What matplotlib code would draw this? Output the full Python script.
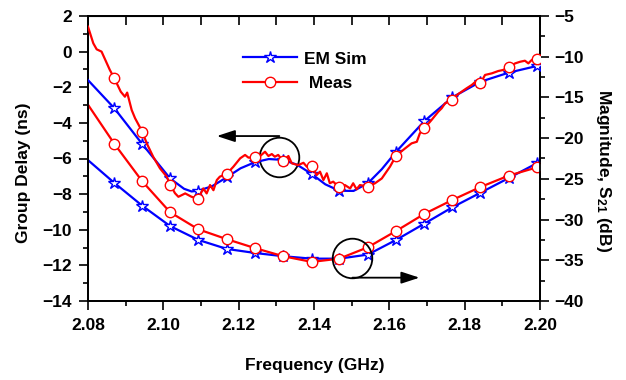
import numpy as np
import matplotlib
matplotlib.use("Agg")
import matplotlib.pyplot as plt
from matplotlib.lines import Line2D

plt.rcParams['font.family'] = ['Liberation Sans', 'DejaVu Sans']
plt.rcParams['font.weight'] = 'bold'
plt.rcParams['mathtext.fontset'] = 'custom'
plt.rcParams['mathtext.rm'] = 'Liberation Sans:bold'
plt.rcParams['mathtext.bf'] = 'Liberation Sans:bold'
plt.rcParams['mathtext.default'] = 'bf'

# --- marker frequencies (GHz), shared by all four curves ---
f_mark = [2.0870, 2.0944, 2.1018, 2.1093, 2.1168, 2.1243, 2.1318, 2.1394,
          2.1467, 2.1543, 2.1618, 2.1693, 2.1767, 2.1842, 2.1917, 2.1991]

# --- group delay, EM sim (ns) ---
gd_sim_f = [2.0800, 2.0870, 2.0944, 2.1018, 2.1055, 2.1075, 2.1093, 2.1130,
            2.1168, 2.1205, 2.1243, 2.1280, 2.1318, 2.1355, 2.1394, 2.1430,
            2.1467, 2.1505, 2.1543, 2.1580, 2.1618, 2.1693, 2.1767, 2.1842,
            2.1917, 2.1991, 2.2000]
gd_sim = [-1.6, -3.18, -5.19, -7.12, -7.70, -7.85, -7.81, -7.55,
          -7.06, -6.55, -6.21, -6.03, -6.08, -6.35, -6.87, -7.45,
          -7.81, -7.82, -7.39, -6.60, -5.62, -3.90, -2.57, -1.69,
          -1.18, -0.81, -0.75]
gd_sim_mark = [-3.18, -5.19, -7.12, -7.81, -7.06, -6.21, -6.08, -6.87,
               -7.81, -7.39, -5.62, -3.90, -2.57, -1.69, -1.18, -0.81]

# --- group delay, measured (ns) ---
gd_meas_f = [2.0800, 2.0814, 2.0823, 2.0836, 2.0858, 2.0870, 2.0887, 2.0898,
             2.0904, 2.0916, 2.0925, 2.0944, 2.0956, 2.0973, 2.0991, 2.1009,
             2.1018, 2.1031, 2.1040, 2.1058, 2.1075, 2.1093, 2.1106, 2.1115,
             2.1124, 2.1133, 2.1142, 2.1150, 2.1168, 2.1186, 2.1204, 2.1217,
             2.1226, 2.1243, 2.1257, 2.1270, 2.1279, 2.1288, 2.1296, 2.1305,
             2.1318, 2.1332, 2.1341, 2.1358, 2.1372, 2.1381, 2.1394, 2.1407,
             2.1416, 2.1425, 2.1434, 2.1442, 2.1451, 2.1467, 2.1482, 2.1496,
             2.1504, 2.1513, 2.1522, 2.1543, 2.1562, 2.1580, 2.1602, 2.1618,
             2.1642, 2.1659, 2.1673, 2.1681, 2.1693, 2.1712, 2.1730, 2.1739,
             2.1748, 2.1767, 2.1779, 2.1792, 2.1805, 2.1819, 2.1832, 2.1842,
             2.1854, 2.1872, 2.1889, 2.1902, 2.1917, 2.1934, 2.1947, 2.1960,
             2.1969, 2.1978, 2.1991, 2.2000]
gd_meas = [1.4, 0.47, 0.13, 0.0, -1.03, -1.5, -2.25, -2.53,
           -2.3, -3.28, -3.74, -4.49, -5.15, -5.9, -6.55, -7.02,
           -7.47, -7.95, -8.15, -7.96, -8.15, -8.25, -7.68, -7.96,
           -7.49, -7.78, -7.21, -7.02, -6.87, -6.46, -5.99, -5.8,
           -5.95, -5.94, -5.86, -5.62, -5.86, -5.75, -5.9, -5.8,
           -6.14, -5.86, -6.27, -6.37, -6.24, -6.46, -6.40, -6.93,
           -6.74, -7.21, -6.83, -7.39, -7.30, -7.62, -7.49, -7.68,
           -7.39, -7.73, -7.49, -7.58, -7.39, -7.12, -6.45, -5.84,
           -5.43, -5.15, -5.06, -4.59, -4.31, -3.84, -3.37, -3.18,
           -2.9, -2.72, -2.44, -2.25, -2.06, -1.87, -1.63, -1.78,
           -1.31, -1.22, -1.09, -1.03, -0.88, -0.66, -0.57, -0.51,
           -0.66, -0.47, -0.43, -0.35]
gd_meas_mark = [-1.5, -4.49, -7.47, -8.25, -6.87, -5.94, -6.14, -6.40,
                -7.62, -7.58, -5.84, -4.31, -2.72, -1.78, -0.88, -0.43]

# --- |S21|, EM sim (dB) ---
s21_sim_f = [2.0800] + f_mark + [2.2000]
s21_sim = [-22.7, -25.5, -28.3, -30.8, -32.5, -33.6, -34.1, -34.5, -34.8,
           -34.8, -34.3, -32.5, -30.5, -28.5, -26.7, -24.9, -23.1, -22.7]

# --- |S21|, measured (dB) ---
s21_meas_f = [2.0800] + f_mark + [2.2000]
s21_meas = [-15.9, -20.7, -25.3, -29.1, -31.2, -32.4, -33.5, -34.5, -35.2,
            -34.8, -33.4, -31.4, -29.3, -27.6, -26.0, -24.6, -23.6, -23.3]

BLUE = '#0000ff'
RED = '#ff0000'
FS = 12.5

fig = plt.figure(figsize=(6.26, 3.8), dpi=100)
ax = fig.add_axes([88 / 626, 1 - 301 / 380, 452 / 626, 285 / 380])
ax2 = ax.twinx()

# group delay curves on the left axis
ax.plot(gd_sim_f, gd_sim, color=BLUE, lw=1.6, zorder=3)
ax.plot(f_mark, gd_sim_mark, ls='none', marker='*', ms=9, mfc='white',
        mec=BLUE, mew=1.0, zorder=4)
ax.plot(gd_meas_f, gd_meas, color=RED, lw=1.6, zorder=5)
ax.plot(f_mark, gd_meas_mark, ls='none', marker='o', ms=7.5, mfc='white',
        mec=RED, mew=1.0, zorder=6)

# magnitude curves on the right axis
ax2.plot(s21_sim_f, s21_sim, color=BLUE, lw=1.6, zorder=3)
ax2.plot(f_mark, s21_sim[1:-1], ls='none', marker='*', ms=9, mfc='white',
         mec=BLUE, mew=1.0, zorder=4)
ax2.plot(s21_meas_f, s21_meas, color=RED, lw=1.6, zorder=5)
ax2.plot(f_mark, s21_meas[1:-1], ls='none', marker='o', ms=7.5, mfc='white',
         mec=RED, mew=1.0, zorder=6)

# circles + arrows pointing to the axes
ax2.plot([2.1308], [-5 + (-5.92 - 2) * 35 / 16], ls='none', marker='o', ms=28.5,
         mfc='none', mec='black', mew=1.3, zorder=7)
ax2.plot([2.1502], [-5 + (-11.57 - 2) * 35 / 16], ls='none', marker='o', ms=28.5,
         mfc='none', mec='black', mew=1.3, zorder=7)
arrow = dict(arrowstyle='-|>,head_length=1.1,head_width=0.36',
             color='black', lw=1.3, shrinkA=0, shrinkB=0)
ax.annotate('', xy=(2.1142, -4.74), xytext=(2.1308, -4.74), arrowprops=arrow)
ax.annotate('', xy=(2.1680, -12.69), xytext=(2.1502, -12.69), arrowprops=arrow)

ax.set_xlim(2.08, 2.20)
ax.set_ylim(-14, 2)
ax2.set_ylim(-40, -5)
ax.set_zorder(ax2.get_zorder() + 1)
ax.patch.set_visible(False)

ax.set_xticks(np.arange(2.08, 2.2001, 0.02))
ax.set_xticklabels(['2.08', '2.10', '2.12', '2.14', '2.16', '2.18', '2.20'])
ax.set_xticks(np.arange(2.09, 2.2, 0.02), minor=True)
ax.set_yticks(np.arange(-14, 2.1, 2))
ax.set_yticks(np.arange(-13, 2, 2), minor=True)
ax2.set_yticks(np.arange(-40, -4, 5))
ax2.set_yticks(np.arange(-37.5, -5, 5), minor=True)

for a in (ax, ax2):
    a.tick_params(which='major', direction='out', length=6.5, width=1.2,
                  labelsize=FS, pad=5)
    a.tick_params(which='minor', direction='out', length=3.5, width=1.2)
    for s in a.spines.values():
        s.set_linewidth(1.3)
ax.tick_params(axis='x', pad=6)
ax2.tick_params(axis='y', pad=4)
ax.tick_params(top=False, right=False, which='both')
ax2.tick_params(left=False, which='both')

top = ax.secondary_xaxis('top')
top.set_xticks(np.arange(2.08, 2.2001, 0.01))
top.set_xticklabels([])
top.tick_params(direction='in', length=6.5, width=1.2)
top.tick_params(which='minor', length=0)

fig.text(0.503, 0.039, 'Frequency (GHz)', ha='center', va='center',
         fontsize=FS, fontweight='bold')
fig.text(24 / 626, 1 - 173 / 380, 'Group Delay (ns)', ha='center',
         va='center', rotation=90, fontsize=FS, fontweight='bold')
fig.text(604 / 626, 1 - 171 / 380, r'Magnitude, S$_{21}$ (dB)', ha='center',
         va='center', rotation=270, fontsize=FS, fontweight='bold')

handles = [Line2D([], [], color=BLUE, lw=1.6, marker='*', ms=9, mfc='white',
                  mec=BLUE, mew=1.0),
           Line2D([], [], color=RED, lw=1.6, marker='o', ms=7.5, mfc='white',
                  mec=RED, mew=1.0)]
ax.legend(handles, ['EM Sim', ' Meas'], loc='center left',
          bbox_to_anchor=(0.3436, 0.806), frameon=False, borderpad=0,
          borderaxespad=0, handlelength=3.1, handletextpad=0.4,
          labelspacing=0.55, prop={'size': FS, 'weight': 'bold'})

fig.savefig('out.png', dpi=100)
